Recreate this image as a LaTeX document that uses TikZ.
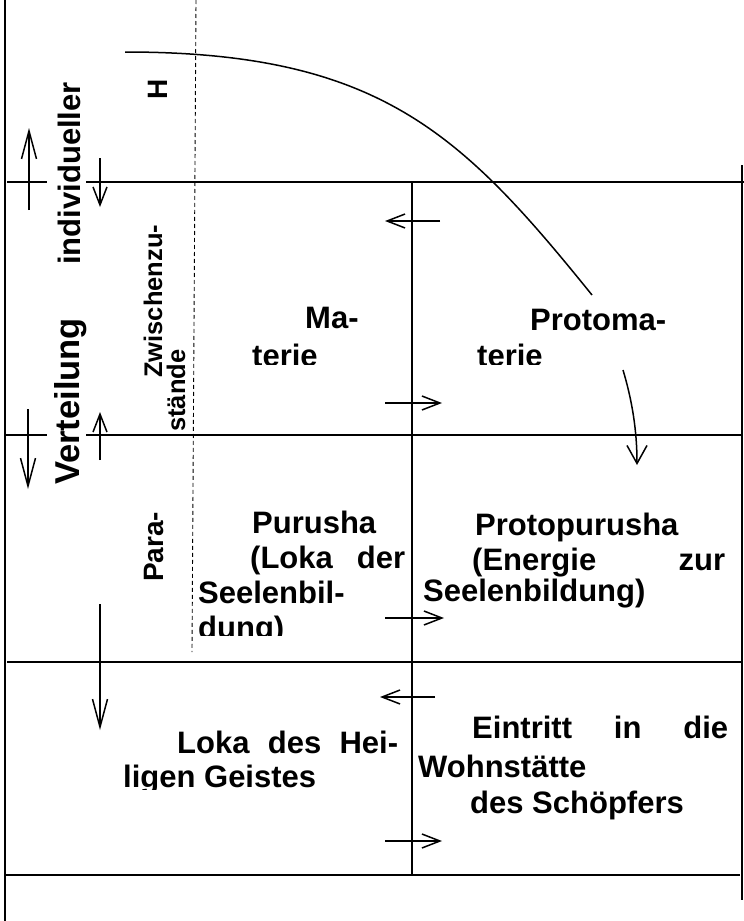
\documentclass[tikz,border=0pt]{standalone}
\usepackage{fontspec}
\setmainfont{Liberation Sans}[BoldFont={Liberation Sans Bold}]
\usetikzlibrary{arrows.meta}
\begin{document}
\begin{tikzpicture}[x=1pt,y=-1pt,
  frame/.style={line width=1.8pt},
  dashline/.style={line width=0.9pt,dash pattern=on 4pt off 3pt},
  arr/.style={line width=1.5pt,-{Straight Barb[length=18pt,width=14pt,line width=1.5pt]}},
  arrlong/.style={line width=1.5pt,-{Straight Barb[length=28pt,width=15pt,line width=1.5pt]}},
  curve/.style={line width=1.5pt},
  lbl/.style={font=\bfseries\fontsize{31}{35.6}\selectfont,inner sep=0pt,anchor=base west},
  lblb/.style={font=\bfseries\fontsize{34.5}{39}\selectfont,inner sep=0pt,anchor=base west},
  lblm/.style={font=\bfseries\fontsize{28}{32}\selectfont,inner sep=0pt,anchor=base west},
  lbls/.style={font=\bfseries\fontsize{25.5}{29}\selectfont,inner sep=0pt,anchor=base west},
]
\useasboundingbox (0,0) rectangle (744,921);
% frame coordinates
\coordinate (L0) at (5,0);   \coordinate (L1) at (5,921);
\coordinate (a1) at (7,182); \coordinate (a2) at (47,182);
\coordinate (a3) at (86,182); \coordinate (a4) at (744,182);
\coordinate (b1) at (5,435); \coordinate (b2) at (47,435);
\coordinate (b3) at (86,435); \coordinate (b4) at (741,435);
\coordinate (c1) at (7,662); \coordinate (c2) at (742,662);
\coordinate (d1) at (5,875); \coordinate (d2) at (740,875);
\coordinate (R0) at (742,165); \coordinate (R1) at (742,900);
\coordinate (M0) at (412,182); \coordinate (M1) at (412,875);
\coordinate (D0) at (196,0); \coordinate (D1) at (192,652);
\draw[frame] (L0) -- (L1);
\draw[frame] (a1) -- (a2);
\draw[frame] (a3) -- (a4);
\draw[frame] (b1) -- (b2);
\draw[frame] (b3) -- (b4);
\draw[frame] (c1) -- (c2);
\draw[frame] (d1) -- (d2);
\draw[frame] (R0) -- (R1);
\draw[frame] (M0) -- (M1);
\draw[dashline] (D0) -- (D1);
% vertical arrows
\coordinate (u1s) at (29,210); \coordinate (u1e) at (29,128);
\coordinate (v1s) at (100,158); \coordinate (v1e) at (100,207);
\coordinate (u2s) at (28,409); \coordinate (u2e) at (28,489);
\coordinate (v2s) at (100,460); \coordinate (v2e) at (100,412);
\coordinate (v3s) at (100,604); \coordinate (v3e) at (100,730);
\draw[arrlong] (u1s) -- (u1e);
\draw[arr] (v1s) -- (v1e);
\draw[arrlong] (u2s) -- (u2e);
\draw[arr] (v2s) -- (v2e);
\draw[arrlong] (v3s) -- (v3e);
% horizontal arrows
\coordinate (h1s) at (440,221); \coordinate (h1e) at (385,221);
\coordinate (h2s) at (385,403); \coordinate (h2e) at (442,403);
\coordinate (h3s) at (385,618); \coordinate (h3e) at (444,618);
\coordinate (h4s) at (435,697); \coordinate (h4e) at (380,697);
\coordinate (h5s) at (385,841); \coordinate (h5e) at (442,841);
\draw[arr] (h1s) -- (h1e);
\draw[arr] (h2s) -- (h2e);
\draw[arr] (h3s) -- (h3e);
\draw[arr] (h4s) -- (h4e);
\draw[arr] (h5s) -- (h5e);
% curves
\coordinate (k0) at (125,52); \coordinate (k1) at (592,295);
\draw[curve] (k0) .. controls (380,52) and (462,134) .. (k1);
\coordinate (q0) at (623,370); \coordinate (q1) at (637,465);
\draw[line width=1.5pt,-{Straight Barb[length=18pt,width=20pt,line width=1.5pt]}] (q0) .. controls (632,400) and (637,430) .. (q1);
% rotated labels
\node[lblm,rotate=90] (tH) at (167,100) {H};
\node[lbl,rotate=90] (tind) at (80,265) {individueller};
\node[lblb,rotate=90] (tver) at (79,485) {Verteilung};
\node[lbls,rotate=90] (tzw) at (162,378) {Zwischenzu-};
\begin{scope}
  \clip (140,300) rectangle (200,429);
  \node[lbls,rotate=90] (tst) at (185,432) {stände};
\end{scope}
\node[lblm,rotate=90] (tpara) at (163,582) {Para-};
% horizontal labels
\node[lbl] (tma) at (305,328) {Ma-};
\node[lbl] (tpm) at (530,330) {Protoma-};
\begin{scope}
  \clip (200,330) rectangle (600,364);
  \node[lbl] (tter1) at (252,366) {terie};
  \node[lbl] (tter2) at (477,366) {terie};
\end{scope}
\node[lbl] (tpu) at (252,533) {Purusha};
\node[lbl] (tlo) at (250,568) {\makebox[155pt][s]{(Loka der}};
\node[lbl] (tse) at (198,603) {Seelenbil-};
\begin{scope}
  \clip (196,600) rectangle (400,635);
  \node[lbl] (tdu) at (198,638) {dung)};
\end{scope}
\node[lbl] (tpp) at (475,535) {Protopurusha};
\node[lbl] (ten) at (472,570) {\makebox[253pt][s]{(Energie zur}};
\node[lbl] (tsb) at (423,601) {Seelenbildung)};
\node[lbl] (tlh) at (177,753) {\makebox[221pt][s]{Loka des Hei-}};
\begin{scope}
  \clip (110,760) rectangle (400,789);
  \node[lbl] (tlg) at (123,787) {ligen Geistes};
\end{scope}
\node[lbl] (tei) at (472,738) {\makebox[256pt][s]{Eintritt in die}};
\node[lbl] (two) at (418,777) {Wohnstätte};
\node[lbl] (tds) at (470,813) {des Schöpfers};
\end{tikzpicture}
\end{document}
